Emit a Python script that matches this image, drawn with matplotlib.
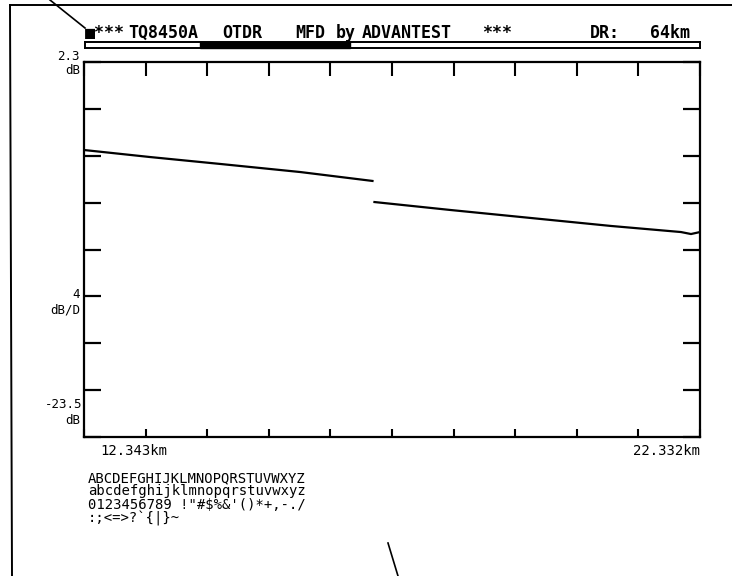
import numpy as np
import matplotlib
matplotlib.use('Agg')
import matplotlib.pyplot as plt
from matplotlib.lines import Line2D
from matplotlib.patches import Rectangle

# OTDR trace (distance in km, level in dB)
km_1 = [12.343, 13.415, 14.552, 15.851, 17.021]
db_1 = [-5.21, -5.81, -6.40, -7.09, -7.85]
km_2 = [17.053, 18.288, 19.587, 20.886, 22.023, 22.186, 22.332]
db_2 = [-9.65, -10.33, -11.01, -11.69, -12.21, -12.38, -12.21]

x_start, x_end = 12.343, 22.332
y_top, y_bottom = 2.3, -29.7
header = ["■***", "TQ8450A", "OTDR", "MFD", "by", "ADVANTEST", "***", "DR:", "64km"]
header_x = [85, 128, 222, 295, 336, 362, 482, 590, 650]
charset = ["ABCDEFGHIJKLMNOPQRSTUVWXYZ",
           "abcdefghijklmnopqrstuvwxyz",
           "0123456789 !\"#$%&'()*+,-./",
           ":;<=>?`{|}~"]

W, H = 732, 576
fig = plt.figure(figsize=(W / 100, H / 100), dpi=100)
mono = 'DejaVu Sans Mono'


def fx(px):
    return px / W


def fy(py):
    return 1 - py / H


def fline(x0, y0, x1, y1, lw=1.5):
    fig.add_artist(Line2D([fx(x0), fx(x1)], [fy(y0), fy(y1)], color='black',
                          lw=lw, transform=fig.transFigure))


# plot area
ax = fig.add_axes([fx(84), fy(437), fx(700) - fx(84), fy(62) - fy(437)])
ax.plot(km_1, db_1, color='black', lw=1.6)
ax.plot(km_2, db_2, color='black', lw=1.6)
ax.set_xlim(x_start, x_end)
ax.set_ylim(y_bottom, y_top)
for s in ax.spines.values():
    s.set_linewidth(1.6)

xt = np.linspace(x_start, x_end, 11)
yt = np.linspace(y_bottom, y_top, 9)
ax.set_xticks(xt)
ax.set_xticks(xt, minor=True)
ax.xaxis.remove_overlapping_locs = False
ax.set_yticks(yt)
ax.tick_params(axis='x', which='major', direction='in', top=True, bottom=False,
               length=10, width=1.5, labelbottom=False)
ax.tick_params(axis='x', which='minor', direction='in', top=False, bottom=True,
               length=6, width=1.5)
ax.tick_params(axis='y', direction='in', left=True, right=True, length=12,
               width=1.6, labelleft=False)

# outer frame and pointer lines
fline(10, 5, W, 5, lw=1.4)
fline(10, 5, 12, H, lw=1.4)
fline(50, 0, 85, 28, lw=1.2)
fline(388, 543, 398, H, lw=1.2)

# header and the double rule under it
for t, x in zip(header, header_x):
    fig.text(fx(x), fy(33), t, family=mono, weight='bold', fontsize=12,
             va='center', ha='left')
fline(85, 42, 700, 42, lw=1.4)
fline(85, 48, 700, 48, lw=1.4)
fline(85, 42, 85, 48, lw=1.4)
fline(700, 42, 700, 48, lw=1.4)
fig.add_artist(Rectangle((fx(200), fy(48)), fx(350) - fx(200), fy(42) - fy(48),
                         color='black', transform=fig.transFigure))

# scale labels
lab = dict(family=mono, fontsize=9, ha='right', va='center')
fig.text(fx(80), fy(56), "2.3", **lab)
fig.text(fx(80), fy(71), "dB", **lab)
fig.text(fx(80), fy(295), "4", **lab)
fig.text(fx(80), fy(310), "dB/D", **lab)
fig.text(fx(82), fy(405), "-23.5", **lab)
fig.text(fx(80), fy(420), "dB", **lab)
fig.text(fx(100), fy(451), f"{x_start:.3f}km", family=mono, fontsize=10,
         ha='left', va='center')
fig.text(fx(700), fy(451), f"{x_end:.3f}km", family=mono, fontsize=10,
         ha='right', va='center')

# character set dump
for i, line in enumerate(charset):
    fig.text(fx(88), fy(478 + 13.5 * i), line, family=mono, fontsize=10,
             ha='left', va='center')

fig.savefig('out.png', dpi=100)
